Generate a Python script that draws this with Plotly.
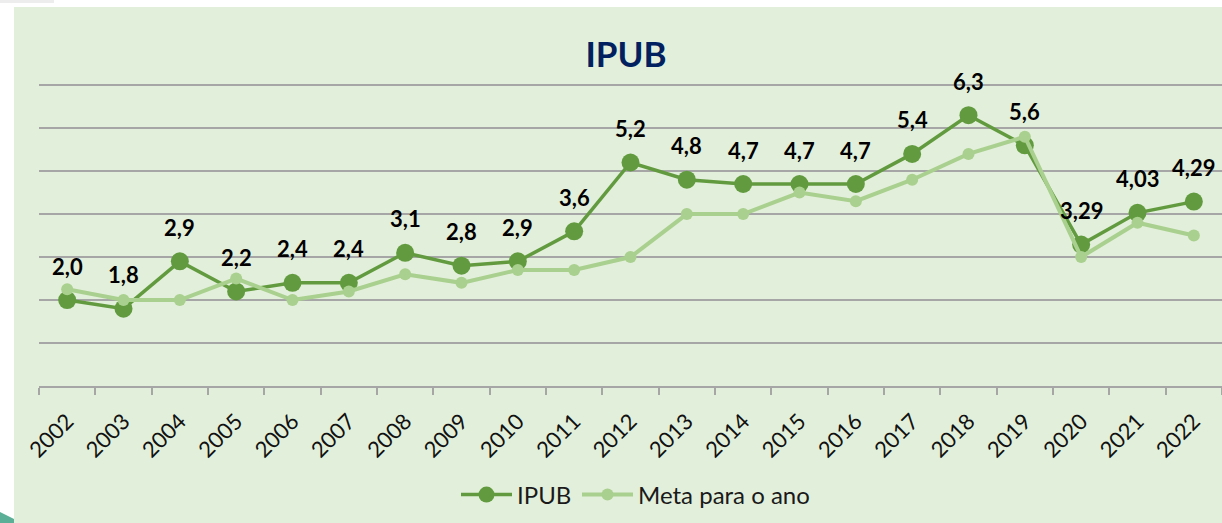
import plotly.graph_objects as go

years = [str(y) for y in range(2002, 2023)]
ipub = [2.0, 1.8, 2.9, 2.2, 2.4, 2.4, 3.1, 2.8, 2.9, 3.6, 5.2, 4.8, 4.7, 4.7, 4.7, 5.4, 6.3, 5.6, 3.29, 4.03, 4.29]
ipub_labels = ["2,0", "1,8", "2,9", "2,2", "2,4", "2,4", "3,1", "2,8", "2,9", "3,6", "5,2", "4,8", "4,7",
               "4,7", "4,7", "5,4", "6,3", "5,6", "3,29", "4,03", "4,29"]
meta = [2.25, 2.0, 2.0, 2.5, 2.0, 2.2, 2.6, 2.4, 2.7, 2.7, 3.0, 4.0, 4.0, 4.5, 4.3, 4.8, 5.4, 5.8, 3.0, 3.8, 3.5]

W, H = 1222, 523
ML, MR, MT, MB = 39, 0, 83, 137
PW = W - ML - MR
PH = H - MT - MB


def px_x(p):
    return (p - ML) / PW


def px_y(p):
    return (H - MB - p) / PH


FONT = "Lato, 'Open Sans', sans-serif"
DARK = "#629B3F"
LIGHT = "#A9D08E"

fig = go.Figure()
fig.add_trace(go.Scatter(
    x=years, y=ipub, name="IPUB", mode="lines+markers", legend="legend",
    line=dict(color=DARK, width=3.5), marker=dict(color=DARK, size=18),
))
fig.add_trace(go.Scatter(
    x=years, y=meta, name="Meta para o ano", mode="lines+markers", legend="legend2",
    line=dict(color=LIGHT, width=4), marker=dict(color=LIGHT, size=12),
))

for i, (y, t) in enumerate(zip(ipub, ipub_labels)):
    fig.add_annotation(x=i, y=y, xref="x", yref="y", text="<b>" + t + "</b>", showarrow=False,
                       yshift=34, font=dict(family=FONT, size=22, color="#000000"))

shapes = [
    dict(type="rect", xref="paper", yref="paper", layer="below",
         x0=px_x(14), x1=px_x(W), y0=px_y(H), y1=px_y(7),
         fillcolor="#E2EFDA", line=dict(width=0)),
    dict(type="rect", xref="paper", yref="paper", layer="below",
         x0=px_x(0), x1=px_x(54), y0=px_y(3), y1=px_y(0),
         fillcolor="#EDEDED", line=dict(width=0)),
    dict(type="path", xref="paper", yref="paper", layer="below",
         path=f"M {px_x(0)} {px_y(512)} L {px_x(14)} {px_y(519)} L {px_x(14)} {px_y(H)} L {px_x(0)} {px_y(H)} Z",
         fillcolor="#5BAF96", line=dict(width=0)),
]

legend_common = dict(orientation="h", xanchor="left", y=px_y(495), yanchor="middle",
                     font=dict(family=FONT, size=24, color="#1A1A1A"), bgcolor="rgba(0,0,0,0)",
                     itemwidth=51)

fig.update_layout(
    width=W, height=H,
    margin=dict(l=ML, r=MR, t=MT, b=MB),
    paper_bgcolor="#FFFFFF",
    plot_bgcolor="rgba(0,0,0,0)",
    shapes=shapes,
    title=dict(text="<b>IPUB</b>", x=626 / W, xanchor="center", y=1 - 55 / H, yanchor="middle",
               xref="container", yref="container",
               font=dict(family=FONT, size=35, color="#002060")),
    showlegend=True,
    legend=dict(x=px_x(456), **legend_common),
    legend2=dict(x=px_x(577), **legend_common),
    xaxis=dict(type="category", range=[-0.5, len(years) - 0.5], showgrid=False,
               showline=True, linecolor="#A6A6A6", linewidth=1.5,
               ticks="outside", tickson="boundaries", ticklen=7, tickcolor="#A6A6A6", tickwidth=1.5,
               tickangle=-45, ticklabelstandoff=12,
               tickfont=dict(family=FONT, size=22, color="#111111"), zeroline=False),
    yaxis=dict(range=[0, 7.05], dtick=1, showgrid=True, gridcolor="#A6A6A6", gridwidth=1.8,
               showticklabels=False, zeroline=False, showline=False, ticks=""),
)

fig.write_html("out.html", config={"displayModeBar": False},
               post_script="document.body.style.margin='0';document.body.style.padding='0';")
